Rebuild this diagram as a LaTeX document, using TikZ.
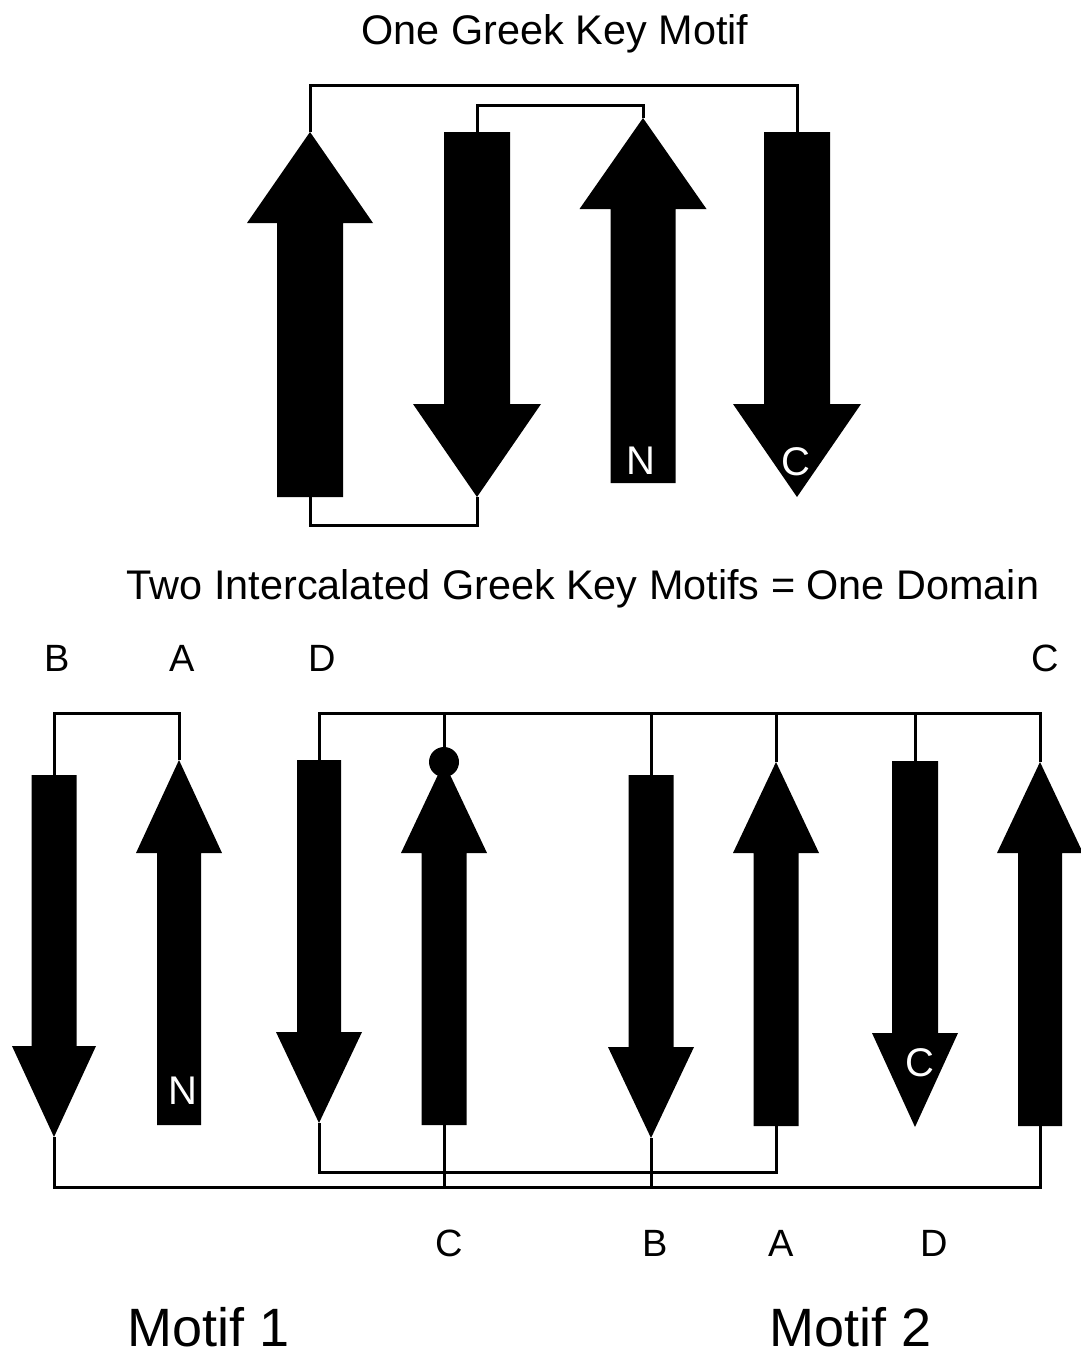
\documentclass[tikz,border=0pt]{standalone}
\usepackage{fontspec}
\setmainfont{Liberation Sans}
\newcommand\UpStrand[7]{%
  \fill (#2,#3) -- (#2+#7,#4) -- (#2+#6,#4) -- (#2+#6,#5) -- (#2-#6,#5) -- (#2-#6,#4) -- (#2-#7,#4) -- cycle;
  \coordinate (#1-top) at (#2,#3);
  \coordinate (#1-bot) at (#2,#5);}
\newcommand\DownStrand[7]{%
  \fill (#2,#3) -- (#2+#6,#3) -- (#2+#6,#4) -- (#2+#7,#4) -- (#2,#5) -- (#2-#7,#4) -- (#2-#6,#4) -- (#2-#6,#3) -- cycle;
  \coordinate (#1-top) at (#2,#3);
  \coordinate (#1-bot) at (#2,#5);}
\begin{document}
\begin{tikzpicture}[x=1pt,y=-1pt,
  loop/.style={draw=black,line width=3pt,line cap=butt,line join=miter},
  title/.style={font=\fontsize{41.4}{49}\selectfont,anchor=base,inner sep=0pt},
  lab/.style={font=\fontsize{38}{45}\selectfont,anchor=base,inner sep=0pt},
  inlab/.style={font=\fontsize{40}{45}\selectfont,text=white,anchor=base,inner sep=0pt},
  motif/.style={font=\fontsize{54}{64}\selectfont,anchor=base,inner sep=0pt,text depth=0pt}]
\useasboundingbox (0,0) rectangle (1081,1358);
% ---------- top: one Greek key motif ----------
\UpStrand{t1}{310}{132}{223}{497}{33}{63}
\DownStrand{t2}{477}{132}{404}{497}{33}{64}
\UpStrand{t3}{643}{118}{209}{483}{32.5}{63.5}
\DownStrand{t4}{797}{132}{404}{497}{33}{64}
\draw[loop] (t1-top) -- ++(0,-47) -| (t4-top);
\draw[loop] (t2-top) -- ++(0,-27) -| (t3-top);
\draw[loop] (t1-bot) -- ++(0,28) -| (t2-bot);
\node[title] (title1) at (555,44) {One Greek Key Motif};
\node[inlab] (tN) at (641,474) {N};
\node[inlab] (tC) at (796,475) {C};
% ---------- bottom: two intercalated motifs ----------
\node[title] (title2) at (583,599) {Two Intercalated Greek Key Motifs = One Domain};
\DownStrand{bB}{54}{775}{1046}{1137}{22.5}{42}
\UpStrand{bA}{179}{760}{853}{1125}{22}{43}
\DownStrand{bD}{319}{760}{1032}{1123}{22}{43}
\UpStrand{bC}{444}{762}{853}{1125}{22.5}{43}
\DownStrand{bBp}{651}{775}{1047}{1138}{22.5}{43}
\UpStrand{bAp}{776}{762}{853}{1126}{22.5}{43}
\DownStrand{bCp}{915}{761}{1033}{1127}{23}{43}
\UpStrand{bDp}{1040}{762}{853}{1126}{22}{43}
\fill (bC-top) circle (15);
\coordinate (railtop) at (0,713);
\coordinate (railbot) at (0,1187);
\draw[loop] (bB-top) -- ++(0,-62) -| (bA-top);
\draw[loop] (bD-top) -- ++(0,-47) -| (bDp-top);
\draw[loop] (bC-top) -- (bC-top |- railtop);
\draw[loop] (bBp-top) -- (bBp-top |- railtop);
\draw[loop] (bAp-top) -- (bAp-top |- railtop);
\draw[loop] (bCp-top) -- (bCp-top |- railtop);
\draw[loop] (bB-bot) -- ++(0,50) -| (bDp-bot);
\draw[loop] (bC-bot) -- (bC-bot |- railbot);
\draw[loop] (bBp-bot) -- (bBp-bot |- railbot);
\draw[loop] (bD-bot) -- ++(0,49) -| (bAp-bot);
\node[inlab] (bN) at (183,1104) {N};
\node[inlab] (bCl) at (920,1076) {C};
\node[lab] (lB1) at (57,671) {B};
\node[lab] (lA1) at (182,671) {A};
\node[lab] (lD1) at (322,671) {D};
\node[lab] (lC1) at (1045,671) {C};
\node[lab] (lC2) at (449,1256) {C};
\node[lab] (lB2) at (655,1256) {B};
\node[lab] (lA2) at (781,1256) {A};
\node[lab] (lD2) at (934,1256) {D};
\node[motif] (m1) at (209,1346) {Motif 1};
\node[motif] (m2) at (851,1346) {Motif 2};
\end{tikzpicture}
\end{document}
